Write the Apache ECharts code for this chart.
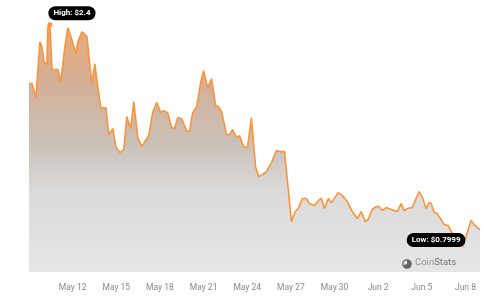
<!DOCTYPE html>
<html>
<head>
<meta charset="utf-8">
<script src="https://cdn.jsdelivr.net/npm/echarts@6/dist/echarts.min.js"></script>
<style>
  html, body { margin: 0; padding: 0; background: #fff; }
  #price { width: 483px; height: 300px; }
</style>
</head>
<body>
<div id="price"></div>
<script>
// days since May 9 (x) and price in USD (y)
var days = [
  0, 0.21, 0.48, 0.75, 0.89, 1.03, 1.23, 1.30, 1.44, 1.58, 1.71, 1.99, 2.19, 2.47, 2.67, 2.95,
  3.22, 3.36, 3.64, 3.77, 3.98, 4.18, 4.32, 4.53, 4.73, 4.94, 5.28, 5.49, 5.76, 5.97, 6.24, 6.52,
  6.72, 7.00, 7.20, 7.48, 7.75, 7.96, 8.23, 8.50, 8.78, 9.05, 9.26, 9.53, 9.81, 10.01, 10.22, 10.49,
  10.84, 11.04, 11.25, 11.52, 11.80, 12.00, 12.28, 12.55, 12.83, 13.03, 13.24, 13.58, 13.79, 13.99, 14.27, 14.47,
  14.75, 15.02, 15.29, 15.57, 15.78, 16.05, 16.32, 16.67, 17.01, 17.28, 17.56, 18.04, 18.31, 18.52, 18.79, 19.07,
  19.27, 19.62, 19.96, 20.10, 20.30, 20.58, 20.78, 21.26, 21.54, 21.88, 22.22, 22.57, 22.84, 23.11, 23.32, 23.59,
  23.87, 24.07, 24.28, 24.55, 24.90, 25.31, 25.58, 25.79, 26.00, 26.34, 26.61, 26.82, 27.02, 27.30, 27.50, 27.64,
  27.85, 28.05, 28.33, 28.53, 28.81, 29.01, 29.42, 29.77, 30.04, 30.38, 30.59, 30.80, 31.00
];
var prices = [
  1.971, 1.971, 1.869, 2.276, 2.240, 2.131, 2.109, 2.385, 2.4, 2.073, 2.065, 2.073, 1.985, 2.240, 2.378, 2.291,
  2.189, 2.276, 2.349, 2.356, 2.313, 2.109, 1.971, 2.116, 1.942, 1.796, 1.796, 1.600, 1.644, 1.513, 1.469, 1.491,
  1.731, 1.644, 1.840, 1.578, 1.513, 1.549, 1.593, 1.760, 1.833, 1.760, 1.775, 1.760, 1.651, 1.644, 1.724, 1.716,
  1.629, 1.622, 1.760, 1.804, 1.978, 2.065, 1.942, 2.007, 1.811, 1.804, 1.767, 1.600, 1.600, 1.636, 1.578, 1.593,
  1.513, 1.505, 1.724, 1.367, 1.295, 1.309, 1.331, 1.396, 1.484, 1.476, 1.476, 0.967, 1.040, 1.062, 1.135, 1.135,
  1.098, 1.084, 1.127, 1.135, 1.062, 1.135, 1.105, 1.178, 1.156, 1.113, 1.040, 0.989, 1.040, 0.967, 0.982, 1.055,
  1.076, 1.076, 1.047, 1.069, 1.055, 1.040, 1.098, 1.047, 1.062, 1.069, 1.135, 1.185, 1.149, 1.062, 1.105, 1.098,
  1.033, 1.025, 0.982, 0.945, 0.938, 0.895, 0.851, 0.7999, 0.858, 0.975, 0.945, 0.924, 0.909
];
// one label every 3 days, starting May 9
var tickLabels = ['May 9', 'May 12', 'May 15', 'May 18', 'May 21', 'May 24', 'May 27', 'May 30', 'Jun 2', 'Jun 5', 'Jun 8'];

var highIdx = prices.indexOf(Math.max.apply(null, prices));
var lowIdx = prices.indexOf(Math.min.apply(null, prices));

var seriesData = days.map(function (d, i) { return [d, prices[i]]; });

var chart = echarts.init(document.getElementById('price'));

var pill = {
    backgroundColor: '#000',
    color: '#fff',
    borderRadius: 7,
    padding: [3, 5],
    fontSize: 8,
    fontWeight: 'bold',
    fontFamily: 'Roboto'
};

option = {
    animation: false,
    grid: { left: 29, right: 2, top: 11, bottom: 28 },
    xAxis: {
        type: 'value',
        min: 0,
        max: 31,
        interval: 3,
        axisLine: { show: false },
        axisTick: { show: false },
        splitLine: { show: false },
        axisLabel: {
            color: '#8a8a8a',
            fontSize: 8.5,
            fontFamily: 'Roboto',
            margin: 11,
            formatter: function (v) {
                if (v === 0 || v % 3 !== 0) return '';
                return tickLabels[v / 3];
            }
        }
    },
    yAxis: {
        type: 'value',
        min: 0.6,
        max: 2.5,
        show: false
    },
    graphic: [
        {
            type: 'circle',
            shape: { cx: 407, cy: 264, r: 4.2 },
            style: { fill: 'none', stroke: '#666', lineWidth: 1.3 },
            z: 10
        },
        {
            type: 'sector',
            shape: { cx: 407, cy: 264, r: 4.2, r0: 0, startAngle: -Math.PI / 2, endAngle: Math.PI * 0.9 },
            style: { fill: '#666' },
            z: 10
        },
        {
            type: 'text',
            left: 415,
            top: 258,
            style: {
                text: '{a|Coin}{b|Stats}',
                rich: {
                    a: { fill: '#939393', fontSize: 9.5, fontFamily: 'Roboto' },
                    b: { fill: '#757575', fontSize: 9.5, fontFamily: 'Roboto' }
                }
            },
            z: 10
        }
    ],
    series: [
        {
            type: 'line',
            data: seriesData,
            showSymbol: false,
            symbol: 'none',
            lineStyle: { color: '#fb9338', width: 1.6 },
            areaStyle: {
                color: new echarts.graphic.LinearGradient(0, 0, 0, 1, [
                    { offset: 0, color: '#e0843a' },
                    { offset: 0.25, color: '#bf8e6c' },
                    { offset: 0.48, color: '#b2a598' },
                    { offset: 0.68, color: '#cbcbcb' },
                    { offset: 1, color: '#dadada' }
                ])
            },
            markPoint: {
                symbol: 'circle',
                symbolSize: 5,
                itemStyle: { color: '#fb9338' },
                data: [
                    {
                        coord: seriesData[highIdx],
                        label: Object.assign({
                            show: true,
                            position: 'top',
                            distance: 2,
                            offset: [22, 0],
                            formatter: 'High: $' + prices[highIdx]
                        }, pill)
                    },
                    {
                        coord: seriesData[lowIdx],
                        label: Object.assign({
                            show: true,
                            position: 'top',
                            distance: 3,
                            offset: [-26, 8],
                            formatter: 'Low: $' + prices[lowIdx]
                        }, pill)
                    }
                ]
            }
        }
    ]
};

chart.setOption(option);
window.addEventListener('resize', function () {
    chart.resize();
});
</script>
</body>
</html>
